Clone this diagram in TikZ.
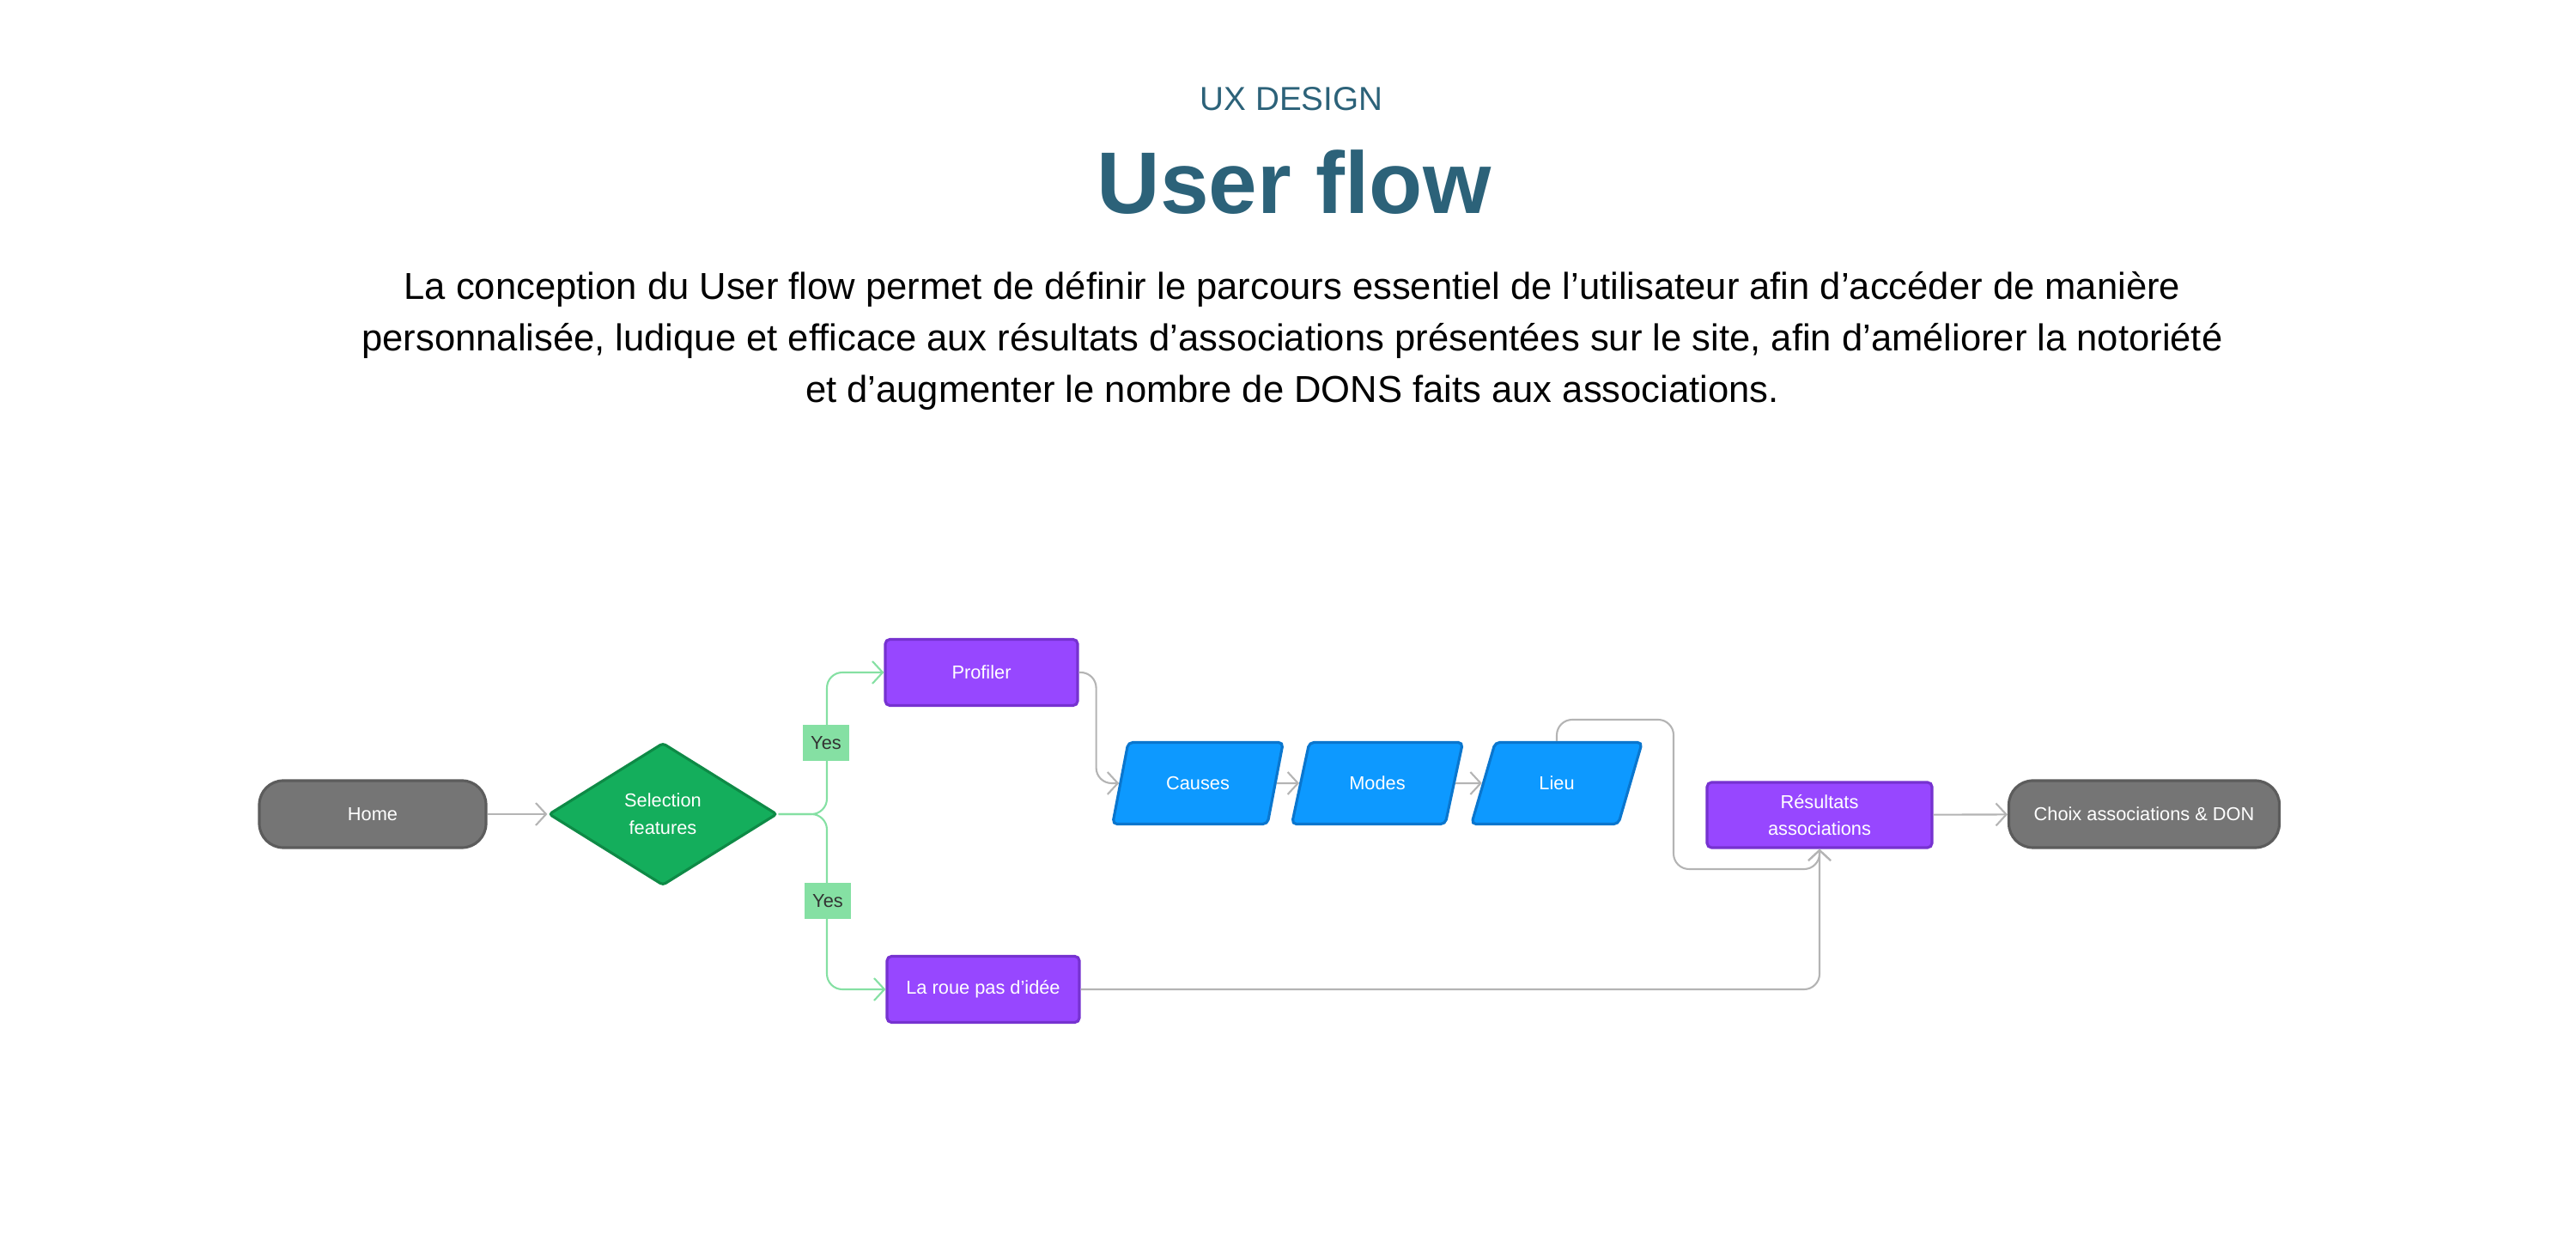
\documentclass[tikz,border=0pt]{standalone}
\usepackage{fontspec}
\setmainfont{Liberation Sans}
\usepackage{xcolor}
\usepackage{tikz}
\usetikzlibrary{arrows.meta,shapes.geometric,positioning,calc}
\definecolor{titleteal}{RGB}{44,98,121}
\definecolor{termgray}{RGB}{117,117,117}
\definecolor{termedge}{RGB}{92,92,92}
\definecolor{decgreen}{RGB}{20,174,92}
\definecolor{decedge}{RGB}{14,138,70}
\definecolor{procpurple}{RGB}{151,71,255}
\definecolor{procedge}{RGB}{118,50,208}
\definecolor{datablue}{RGB}{13,153,255}
\definecolor{dataedge}{RGB}{10,118,206}
\definecolor{yesgreen}{RGB}{133,224,163}
\definecolor{wiregray}{RGB}{180,180,180}

\begin{document}
\begin{tikzpicture}[font=\fontsize{6.2}{8}\selectfont,
    term/.style={draw=termedge,fill=termgray,text=white,line width=0.9pt,rounded corners=0.28cm,
                 minimum height=0.78cm,align=center,inner sep=2pt},
    decide/.style={diamond,draw=decedge,fill=decgreen,text=white,line width=0.9pt,rounded corners=1pt,
                   minimum width=2.66cm,minimum height=1.66cm,align=center,inner sep=0pt},
    proc/.style={draw=procedge,fill=procpurple,text=white,line width=0.9pt,rounded corners=1.5pt,
                 minimum height=0.77cm,align=center,inner sep=2pt},
    datum/.style={trapezium,trapezium left angle=68,trapezium right angle=112,trapezium stretches=true,
                  draw=dataedge,fill=datablue,text=white,line width=0.9pt,rounded corners=1.5pt,
                  minimum width=1.99cm,minimum height=0.95cm,inner sep=1pt},
    yes/.style={fill=yesgreen,text=black!80,minimum width=0.54cm,minimum height=0.42cm,inner sep=1pt},
    arr/.style={-{Straight Barb[length=1.2mm,width=2.6mm]},wiregray,line width=0.6pt,rounded corners=0.18cm},
    garr/.style={arr,yesgreen}]
  \useasboundingbox (0,0) rectangle (30,14.58);
  % heading
  \node[text=titleteal,font=\fontsize{11}{13}\selectfont] (kicker) at (15.04,13.43) {UX DESIGN};
  \node[text=titleteal,font=\fontsize{29}{34}\selectfont\bfseries,anchor=base] (title) at (15.07,12.09) {User flow};
  \node[align=center,font=\fontsize{12.4}{17}\selectfont] (intro) at (15.05,10.61)
    {La conception du User flow permet de définir le parcours essentiel de l’utilisateur afin d’accéder de manière\\
     personnalisée, ludique et efficace aux résultats d’associations présentées sur le site, afin d’améliorer la notoriété\\
     et d’augmenter le nombre de DONS faits aux associations.};
  % flow
  \node[term,minimum width=2.64cm] (home) at (4.34,5.10) {Home};
  \node[decide] (sel) at (7.72,5.10) {Selection\\[1pt]features};
  \node[proc,minimum width=2.24cm] (prof) at (11.43,6.75) {Profiler};
  \node[proc,minimum width=2.24cm] (roue) at (11.45,3.06) {La roue pas d’idée};
  \node[datum] (causes) at (13.95,5.46) {Causes};
  \node[datum] (modes) at (16.04,5.46) {Modes};
  \node[datum] (lieu) at (18.13,5.46) {Lieu};
  \node[proc,minimum width=2.62cm,minimum height=0.76cm] (res) at (21.19,5.09) {Résultats\\[1pt]associations};
  \node[term,minimum width=3.15cm] (choix) at (24.97,5.10) {Choix associations \& DON};
  \coordinate (fork) at (9.63,5.10);
  \coordinate (loopA) at (19.49,6.20);
  \coordinate (loopB) at (19.49,4.46);
  \draw[arr] (home) -- (sel);
  \draw[garr] (sel.east) -- (fork) |- (prof.west);
  \draw[garr] (sel.east) -- (fork) |- (roue.west);
  \node[yes] (yes1) at (9.62,5.93) {Yes};
  \node[yes] (yes2) at (9.64,4.09) {Yes};
  \draw[arr] (prof.east) -- ++(0.2,0) |- (causes.west);
  \draw[arr] (causes) -- (modes); \draw[arr] (modes) -- (lieu);
  \draw[arr] (lieu.north) |- (loopA) -- (loopB) -| (res.south);
  \draw[arr] (roue.east) -| (res.south);
  \draw[arr] (res) -- (choix);
\end{tikzpicture}
\end{document}
